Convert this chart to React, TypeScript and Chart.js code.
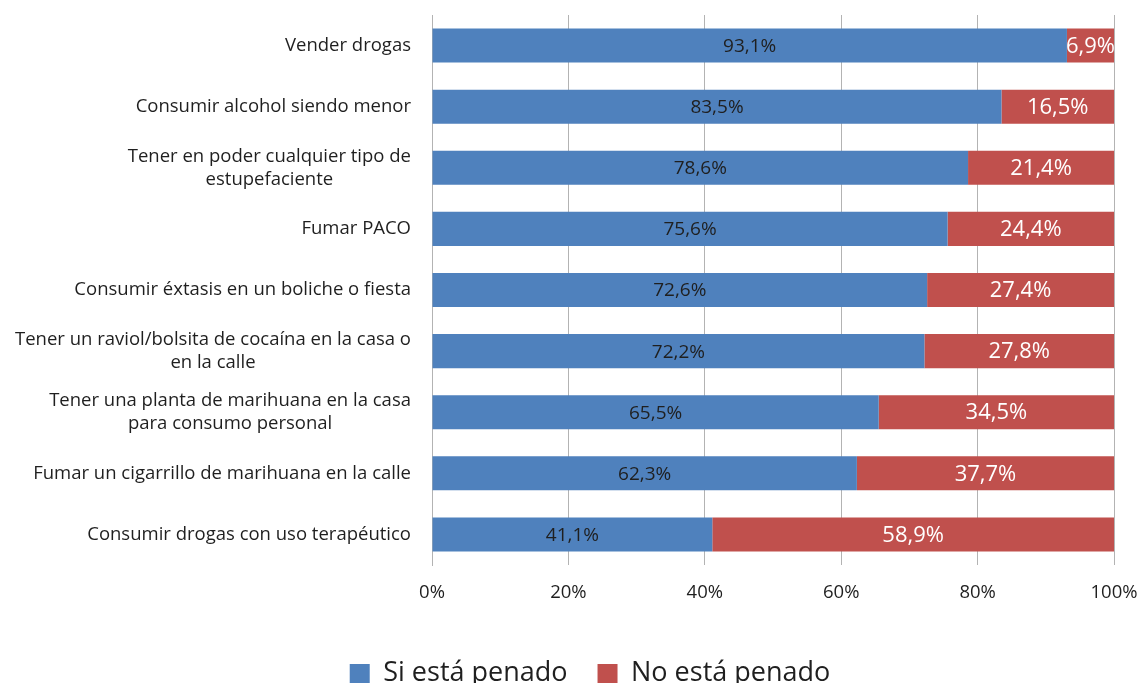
import React, { useEffect, useRef } from "react";
import { Chart, registerables } from "chart.js";
Chart.register(...registerables);

const categories: string[][] = [
  ["Vender drogas"],
  ["Consumir alcohol siendo menor"],
  ["Tener en poder cualquier tipo de", "estupefaciente"],
  ["Fumar PACO"],
  ["Consumir éxtasis en un boliche o fiesta"],
  ["Tener un raviol/bolsita de cocaína en la casa o", "en la calle"],
  ["Tener una planta de marihuana en la casa", "para consumo personal"],
  ["Fumar un cigarrillo de marihuana en la calle"],
  ["Consumir drogas con uso terapéutico"],
];
const siPenado = [93.1, 83.5, 78.6, 75.6, 72.6, 72.2, 65.5, 62.3, 41.1];
const noPenado = [6.9, 16.5, 21.4, 24.4, 27.4, 27.8, 34.5, 37.7, 58.9];
const seriesNames = ["Si está penado", "No está penado"];
const xTicks = [0, 20, 40, 60, 80, 100];

const FONT = "'Open Sans', sans-serif";
const CANVAS_W = 1142;
const CANVAS_H = 697;
const LEGEND_PAD = 30;
const LEGEND_FONT = 27;
const PLOT_BOTTOM = 565;

const fmt = (v: number) => v.toFixed(1).replace(".", ",") + "%";

const labelPlugin = {
  id: "customLabels",
  afterDatasetsDraw(chart: any) {
    const ctx = chart.ctx;
    ctx.save();
    chart.data.datasets.forEach((ds: any, di: number) => {
      const meta = chart.getDatasetMeta(di);
      meta.data.forEach((bar: any, i: number) => {
        const v = ds.data[i];
        const left = Math.min(bar.x, bar.base);
        const right = Math.max(bar.x, bar.base);
        const cx = (left + right) / 2;
        ctx.textAlign = "center";
        ctx.textBaseline = "middle";
        if (di === 0) {
          ctx.fillStyle = "#1f1f1f";
          ctx.font = `19px ${FONT}`;
        } else {
          ctx.fillStyle = "#ffffff";
          ctx.font = `22px ${FONT}`;
        }
        ctx.fillText(fmt(v), cx, bar.y + 1);
      });
    });
    const yScale = chart.scales.y;
    const rightEdge = chart.chartArea.left - 21;
    ctx.fillStyle = "#1f1f1f";
    ctx.font = `18.5px ${FONT}`;
    ctx.textBaseline = "middle";
    ctx.textAlign = "center";
    const lh = 23;
    categories.forEach((lines, i) => {
      const y = yScale.getPixelForValue(i);
      const maxW = Math.max(...lines.map((l) => ctx.measureText(l).width));
      const cx = rightEdge - maxW / 2;
      const startY = y - ((lines.length - 1) * lh) / 2;
      lines.forEach((l, k) => ctx.fillText(l, cx, startY + k * lh));
    });
    ctx.restore();
  },
};

export default function App() {
  const ref = useRef<HTMLCanvasElement | null>(null);
  useEffect(() => {
    if (!ref.current) return;
    const legendHeight = LEGEND_PAD + LEGEND_FONT + 10;
    const chart = new Chart(ref.current, {
      type: "bar",
      data: {
        labels: categories.map((c) => c.join(" ")),
        datasets: [
          {
            label: seriesNames[0],
            data: siPenado,
            backgroundColor: "#4F81BD",
            barPercentage: 0.557,
            categoryPercentage: 1,
          },
          {
            label: seriesNames[1],
            data: noPenado,
            backgroundColor: "#C0504D",
            barPercentage: 0.557,
            categoryPercentage: 1,
          },
        ],
      },
      options: {
        indexAxis: "y",
        animation: false,
        responsive: false,
        maintainAspectRatio: false,
        layout: { padding: { left: 66, right: 28, top: 15, bottom: 0 } },
        scales: {
          x: {
            stacked: true,
            min: 0,
            max: 100,
            afterBuildTicks: (axis: any) => {
              axis.ticks = xTicks.map((v) => ({ value: v }));
            },
            afterFit: (axis: any) => {
              axis.height = CANVAS_H - legendHeight - PLOT_BOTTOM;
              axis.paddingLeft = 0;
              axis.paddingRight = 0;
            },
            ticks: {
              callback: (v: any) => v + "%",
              color: "#1f1f1f",
              font: { family: FONT, size: 18.5 },
              padding: 17,
              maxRotation: 0,
            },
            grid: {
              color: "#b3b3b3",
              lineWidth: 1,
              drawTicks: false,
              drawOnChartArea: true,
            },
            border: { display: false },
          },
          y: {
            stacked: true,
            ticks: { display: false },
            grid: { display: false },
            border: { display: true, color: "#b3b3b3" },
            afterFit: (axis: any) => {
              axis.width = 366;
              axis.paddingTop = 0;
              axis.paddingBottom = 0;
            },
          },
        },
        plugins: {
          legend: {
            position: "bottom",
            labels: {
              color: "#1f1f1f",
              font: { family: FONT, size: LEGEND_FONT },
              boxWidth: 20,
              boxHeight: 19,
              padding: LEGEND_PAD,
            },
          },
          tooltip: { enabled: false },
        },
      },
      plugins: [labelPlugin],
    });
    return () => chart.destroy();
  }, []);
  return (
    <div
      style={{
        position: "fixed",
        left: 0,
        top: 0,
        width: CANVAS_W,
        height: 683,
        overflow: "hidden",
        background: "#fff",
      }}
    >
      <canvas ref={ref} width={CANVAS_W} height={CANVAS_H} style={{ display: "block" }} />
    </div>
  );
}
